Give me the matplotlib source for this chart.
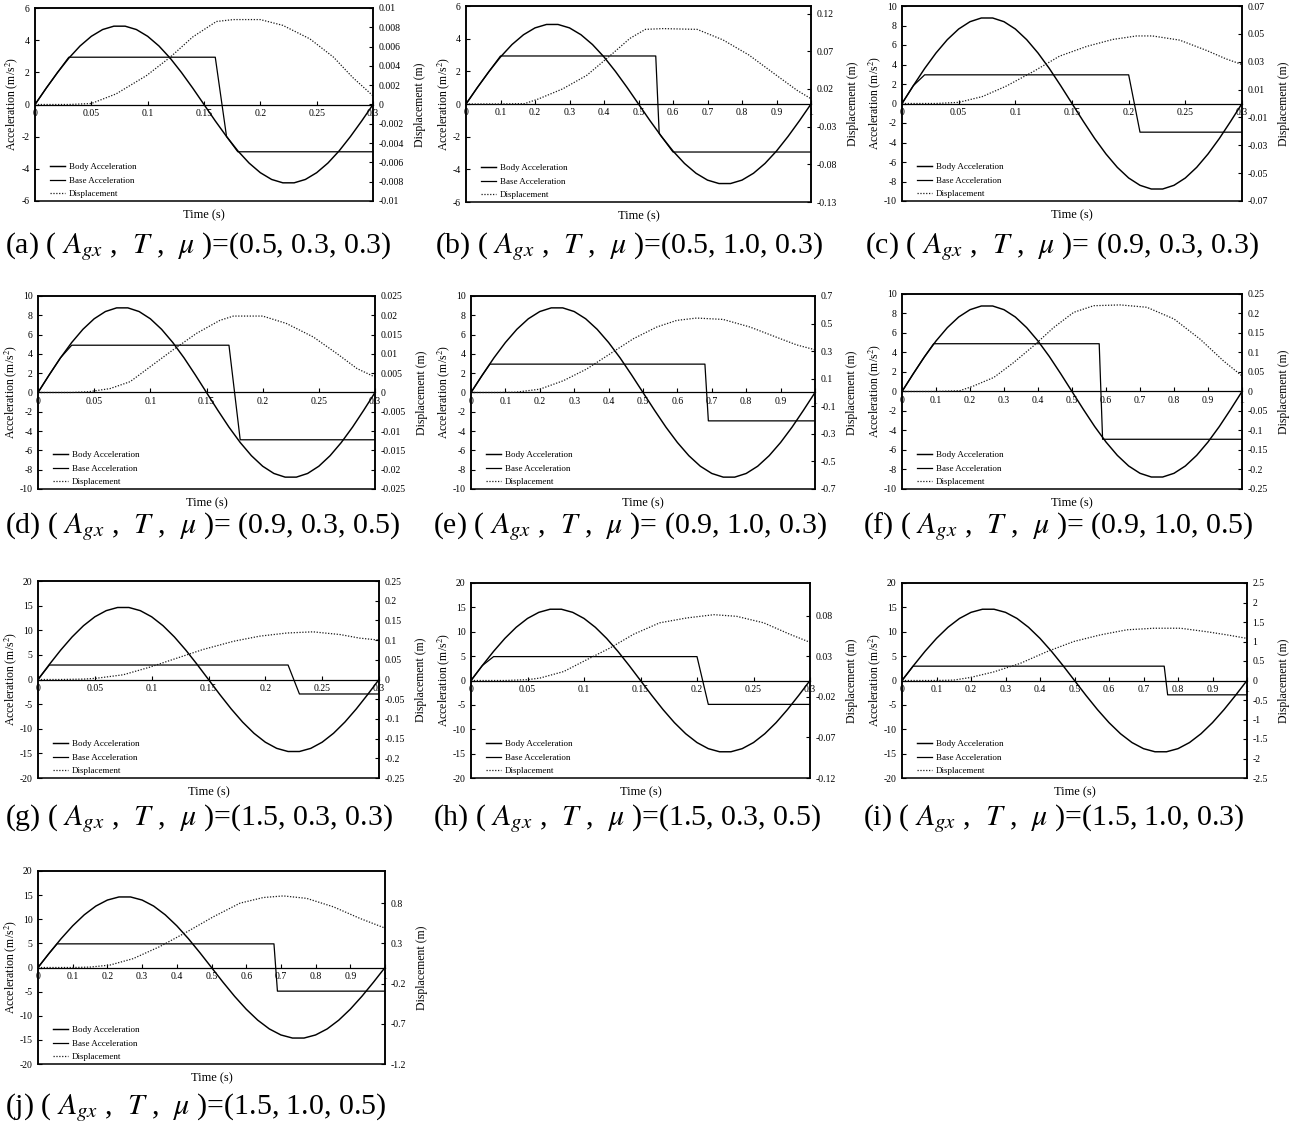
import numpy as np
import matplotlib
matplotlib.use("Agg")
import matplotlib.pyplot as plt
from matplotlib.ticker import FuncFormatter

plt.rcParams['font.family'] = ['Liberation Serif', 'DejaVu Serif']
plt.rcParams['mathtext.fontset'] = 'stix'

FIG_W, FIG_H = 1297, 1135

# ---------------------------------------------------------------------------
# Body acceleration over one period (31 samples, step T/30), per amplitude A_gx
# ---------------------------------------------------------------------------
body_a05 = [0, 1.02, 1.99, 2.88, 3.64, 4.24, 4.66, 4.87, 4.87, 4.66, 4.24, 3.64,
            2.88, 1.99, 1.02, 0, -1.02, -1.99, -2.88, -3.64, -4.24, -4.66, -4.87,
            -4.87, -4.66, -4.24, -3.64, -2.88, -1.99, -1.02, 0]
body_a09 = [0, 1.83, 3.59, 5.18, 6.55, 7.64, 8.39, 8.77, 8.77, 8.39, 7.64, 6.55,
            5.18, 3.59, 1.83, 0, -1.83, -3.59, -5.18, -6.55, -7.64, -8.39, -8.77,
            -8.77, -8.39, -7.64, -6.55, -5.18, -3.59, -1.83, 0]
body_a15 = [0, 3.06, 5.98, 8.64, 10.92, 12.73, 13.98, 14.62, 14.62, 13.98, 12.73,
            10.92, 8.64, 5.98, 3.06, 0, -3.06, -5.98, -8.64, -10.92, -12.73, -13.98,
            -14.62, -14.62, -13.98, -12.73, -10.92, -8.64, -5.98, -3.06, 0]

# ---------------------------------------------------------------------------
# Case parameters (A_gx, T, mu)
# ---------------------------------------------------------------------------
case_ids = ['a', 'b', 'c', 'd', 'e', 'f', 'g', 'h', 'i', 'j']
case_agx = [0.5, 0.5, 0.9, 0.9, 0.9, 0.9, 1.5, 1.5, 1.5, 1.5]
case_T = [0.3, 1.0, 0.3, 0.3, 1.0, 1.0, 0.3, 0.3, 1.0, 1.0]
case_mu = [0.3, 0.3, 0.3, 0.5, 0.3, 0.5, 0.3, 0.5, 0.3, 0.5]
case_captions = [
    '(a) ( $A_{gx}$ ,  $T$ ,  $\\mu$ )=(0.5, 0.3, 0.3)',
    '(b) ( $A_{gx}$ ,  $T$ ,  $\\mu$ )=(0.5, 1.0, 0.3)',
    '(c) ( $A_{gx}$ ,  $T$ ,  $\\mu$ )= (0.9, 0.3, 0.3)',
    '(d) ( $A_{gx}$ ,  $T$ ,  $\\mu$ )= (0.9, 0.3, 0.5)',
    '(e) ( $A_{gx}$ ,  $T$ ,  $\\mu$ )= (0.9, 1.0, 0.3)',
    '(f) ( $A_{gx}$ ,  $T$ ,  $\\mu$ )= (0.9, 1.0, 0.5)',
    '(g) ( $A_{gx}$ ,  $T$ ,  $\\mu$ )=(1.5, 0.3, 0.3)',
    '(h) ( $A_{gx}$ ,  $T$ ,  $\\mu$ )=(1.5, 0.3, 0.5)',
    '(i) ( $A_{gx}$ ,  $T$ ,  $\\mu$ )=(1.5, 1.0, 0.3)',
    '(j) ( $A_{gx}$ ,  $T$ ,  $\\mu$ )=(1.5, 1.0, 0.5)',
]

# ---------------------------------------------------------------------------
# Base acceleration (piecewise: follows body until sticking limit, then slides)
# ---------------------------------------------------------------------------
base_t = {
    'a': [0, 0.01, 0.02, 0.03, 0.16, 0.17, 0.18, 0.3],
    'b': [0, 0.0333, 0.0667, 0.1, 0.55, 0.56, 0.6, 1.0],
    'c': [0, 0.01, 0.02, 0.2, 0.21, 0.3],
    'd': [0, 0.01, 0.02, 0.03, 0.17, 0.18, 0.3],
    'e': [0, 0.03, 0.055, 0.68, 0.69, 1.0],
    'f': [0, 0.03, 0.06, 0.093, 0.58, 0.59, 1.0],
    'g': [0, 0.01, 0.22, 0.23, 0.3],
    'h': [0, 0.01, 0.02, 0.2, 0.21, 0.3],
    'i': [0, 0.032, 0.76, 0.77, 1.0],
    'j': [0, 0.03, 0.055, 0.68, 0.69, 1.0],
}
base_a = {
    'a': [0, 1.02, 1.99, 2.94, 2.94, -1.99, -2.94, -2.94],
    'b': [0, 1.02, 1.99, 2.94, 2.94, -1.80, -2.94, -2.94],
    'c': [0, 1.83, 2.94, 2.94, -2.94, -2.94],
    'd': [0, 1.83, 3.59, 4.9, 4.9, -4.9, -4.9],
    'e': [0, 1.65, 2.94, 2.94, -2.94, -2.94],
    'f': [0, 1.65, 3.25, 4.9, 4.9, -4.9, -4.9],
    'g': [0, 2.94, 2.94, -2.94, -2.94],
    'h': [0, 3.06, 4.9, 4.9, -4.9, -4.9],
    'i': [0, 2.94, 2.94, -2.94, -2.94],
    'j': [0, 2.75, 4.9, 4.9, -4.9, -4.9],
}

# ---------------------------------------------------------------------------
# Relative displacement of the body (m)
# ---------------------------------------------------------------------------
disp_t = {
    'a': [0, 0.03, 0.05, 0.072, 0.099, 0.12, 0.14, 0.161, 0.176, 0.2, 0.22, 0.244, 0.265, 0.282, 0.3],
    'b': [0, 0.1, 0.17, 0.21, 0.28, 0.35, 0.42, 0.475, 0.52, 0.57, 0.67, 0.745, 0.82, 0.9, 0.96, 1.0],
    'c': [0, 0.03, 0.05, 0.071, 0.092, 0.116, 0.139, 0.163, 0.186, 0.207, 0.221, 0.245, 0.269, 0.286, 0.3],
    'd': [0, 0.03, 0.045, 0.064, 0.082, 0.1, 0.12, 0.141, 0.162, 0.174, 0.2, 0.221, 0.245, 0.266, 0.284, 0.3],
    'e': [0, 0.08, 0.13, 0.2, 0.268, 0.336, 0.404, 0.472, 0.54, 0.598, 0.656, 0.733, 0.811, 0.889, 0.947, 1.0],
    'f': [0, 0.1, 0.17, 0.21, 0.27, 0.328, 0.387, 0.446, 0.505, 0.564, 0.642, 0.72, 0.8, 0.877, 0.946, 1.0],
    'g': [0, 0.02, 0.04, 0.051, 0.075, 0.098, 0.122, 0.145, 0.172, 0.195, 0.219, 0.242, 0.266, 0.283, 0.3],
    'h': [0, 0.03, 0.05, 0.061, 0.082, 0.103, 0.123, 0.144, 0.167, 0.191, 0.215, 0.235, 0.259, 0.282, 0.3],
    'i': [0, 0.1, 0.15, 0.198, 0.266, 0.343, 0.42, 0.498, 0.575, 0.652, 0.73, 0.807, 0.884, 0.942, 1.0],
    'j': [0, 0.1, 0.15, 0.207, 0.274, 0.351, 0.428, 0.505, 0.582, 0.649, 0.707, 0.774, 0.851, 0.928, 1.0],
}
disp_v = {
    'a': [0, 0, 0.0001, 0.0011, 0.003, 0.0049, 0.007, 0.0086, 0.0088, 0.0088, 0.0082, 0.0068, 0.0049, 0.0028, 0.0009],
    'b': [0, 0, 0.0005, 0.0067, 0.02, 0.038, 0.065, 0.087, 0.099, 0.1, 0.099, 0.085, 0.065, 0.038, 0.018, 0.007],
    'c': [0, 0, 0.0008, 0.005, 0.0125, 0.023, 0.034, 0.041, 0.046, 0.0485, 0.0485, 0.0455, 0.038, 0.032, 0.028],
    'd': [0, 0, 0.0002, 0.001, 0.0028, 0.0067, 0.011, 0.0153, 0.0187, 0.0198, 0.0198, 0.0179, 0.0144, 0.0101, 0.0062, 0.004],
    'e': [0, 0, 0.002, 0.024, 0.085, 0.17, 0.28, 0.39, 0.475, 0.523, 0.54, 0.53, 0.475, 0.4, 0.345, 0.31],
    'f': [0, 0, 0.002, 0.014, 0.036, 0.074, 0.117, 0.164, 0.203, 0.22, 0.222, 0.216, 0.186, 0.134, 0.078, 0.04],
    'g': [0, 0, 0.001, 0.003, 0.012, 0.031, 0.054, 0.076, 0.097, 0.11, 0.118, 0.121, 0.114, 0.105, 0.1],
    'h': [0, 0, 0.001, 0.003, 0.011, 0.026, 0.04, 0.057, 0.071, 0.077, 0.081, 0.079, 0.071, 0.057, 0.047],
    'i': [0, 0, 0.01, 0.077, 0.22, 0.44, 0.74, 1.0, 1.17, 1.3, 1.34, 1.34, 1.25, 1.17, 1.08],
    'j': [0, 0, 0.005, 0.03, 0.11, 0.26, 0.44, 0.63, 0.8, 0.87, 0.89, 0.86, 0.755, 0.61, 0.49],
}

# Axis scales: acceleration half-range/step, displacement half-range/step
acc_lim = {'a': (6, 2), 'b': (6, 2), 'c': (10, 2), 'd': (10, 2), 'e': (10, 2),
           'f': (10, 2), 'g': (20, 5), 'h': (20, 5), 'i': (20, 5), 'j': (20, 5)}
disp_lim = {'a': (0.01, 0.002), 'b': (0.13, 0.05), 'c': (0.07, 0.02),
            'd': (0.025, 0.005), 'e': (0.7, 0.2), 'f': (0.25, 0.05),
            'g': (0.25, 0.05), 'h': (0.12, 0.05), 'i': (2.5, 0.5), 'j': (1.2, 0.5)}

# Panel frames in pixels: left, top, right, bottom ; caption anchor (x, y)
frames = {
    'a': (35, 8, 373, 201), 'b': (466, 6, 811, 202), 'c': (902, 6, 1242, 201),
    'd': (38, 296, 375, 489), 'e': (471, 296, 815, 489), 'f': (902, 294, 1242, 489),
    'g': (38, 581, 379, 778), 'h': (471, 583, 810, 778), 'i': (902, 583, 1247, 778),
    'j': (38, 871, 385, 1064),
}
caption_xy = {
    'a': (5, 247), 'b': (435, 247), 'c': (865, 247),
    'd': (5, 527), 'e': (433, 527), 'f': (863, 527),
    'g': (5, 819), 'h': (433, 819), 'i': (863, 819),
    'j': (5, 1108),
}


def fmt(v, _pos=None):
    v = round(v, 6)
    if abs(v) < 1e-9:
        return '0'
    return f'{v:g}'


fig = plt.figure(figsize=(FIG_W / 100, FIG_H / 100), dpi=100)
fig.patch.set_facecolor('white')

body_by_amp = {0.5: body_a05, 0.9: body_a09, 1.5: body_a15}

for k, cid in enumerate(case_ids):
    L, T_, R, B = frames[cid]
    wpx, hpx = R - L, B - T_
    ax = fig.add_axes([L / FIG_W, 1 - B / FIG_H, wpx / FIG_W, hpx / FIG_H])
    ax2 = ax.twinx()

    period = case_T[k]
    t_samples = np.linspace(0, period, 31)
    body = body_by_amp[case_agx[k]]

    l_body, = ax.plot(t_samples, body, color='black', lw=1.05, solid_joinstyle='round')
    l_base, = ax.plot(base_t[cid], base_a[cid], color='black', lw=0.9)
    l_disp, = ax2.plot(disp_t[cid], disp_v[cid], color='0.1', lw=0.9,
                       linestyle=(0, (1, 1.3)))

    # horizontal (time) axis crossing at zero acceleration
    ax.set_xlim(0, period)
    xstep = 0.05 if period < 0.5 else 0.1
    ax.set_xticks(np.arange(0, period + 1e-9, xstep))
    ax.xaxis.set_major_formatter(FuncFormatter(fmt))
    ax.spines['bottom'].set_position(('data', 0))
    ax.spines['bottom'].set_linewidth(0.9)

    alim, astep = acc_lim[cid]
    ax.set_ylim(-alim, alim)
    ax.set_yticks(np.arange(-alim, alim + 1e-9, astep))
    ax.yaxis.set_major_formatter(FuncFormatter(fmt))

    dlim, dstep = disp_lim[cid]
    ax2.set_ylim(-dlim, dlim)
    ax2.set_yticks(np.arange(-dlim, dlim + dstep * 1e-3, dstep))
    ax2.yaxis.set_major_formatter(FuncFormatter(fmt))

    for a in (ax, ax2):
        for s in ('left', 'right', 'top'):
            a.spines[s].set_linewidth(1.1)
    ax2.spines['bottom'].set_linewidth(1.1)

    ax.tick_params(axis='x', direction='in', length=3, width=0.8, labelsize=7, pad=3)
    ax.tick_params(axis='y', direction='in', length=3, width=0.8, labelsize=7, pad=4)
    ax2.tick_params(axis='y', direction='in', length=3, width=0.8, labelsize=7, pad=4)

    ax.set_ylabel('Acceleration (m/s$^2$)', fontsize=8.5, labelpad=0.5)
    ax2.set_ylabel('Displacement (m)', fontsize=8.5, labelpad=7.5)
    ax.text(0.5, -14 / hpx, 'Time (s)', transform=ax.transAxes,
            ha='center', va='center', fontsize=9)

    ax2.legend([l_body, l_base, l_disp],
               ['Body Acceleration', 'Base Acceleration', 'Displacement'],
               loc='lower left', bbox_to_anchor=(15 / wpx, 3 / hpx),
               frameon=False, fontsize=6.5, handlelength=1.7,
               handletextpad=0.4, labelspacing=0.55, borderpad=0,
               borderaxespad=0)

    cx, cy = caption_xy[cid]
    fig.text(cx / FIG_W, 1 - cy / FIG_H, case_captions[k], fontsize=21.5,
             ha='left', va='center')

fig.savefig('out.png', dpi=100, facecolor='white')
